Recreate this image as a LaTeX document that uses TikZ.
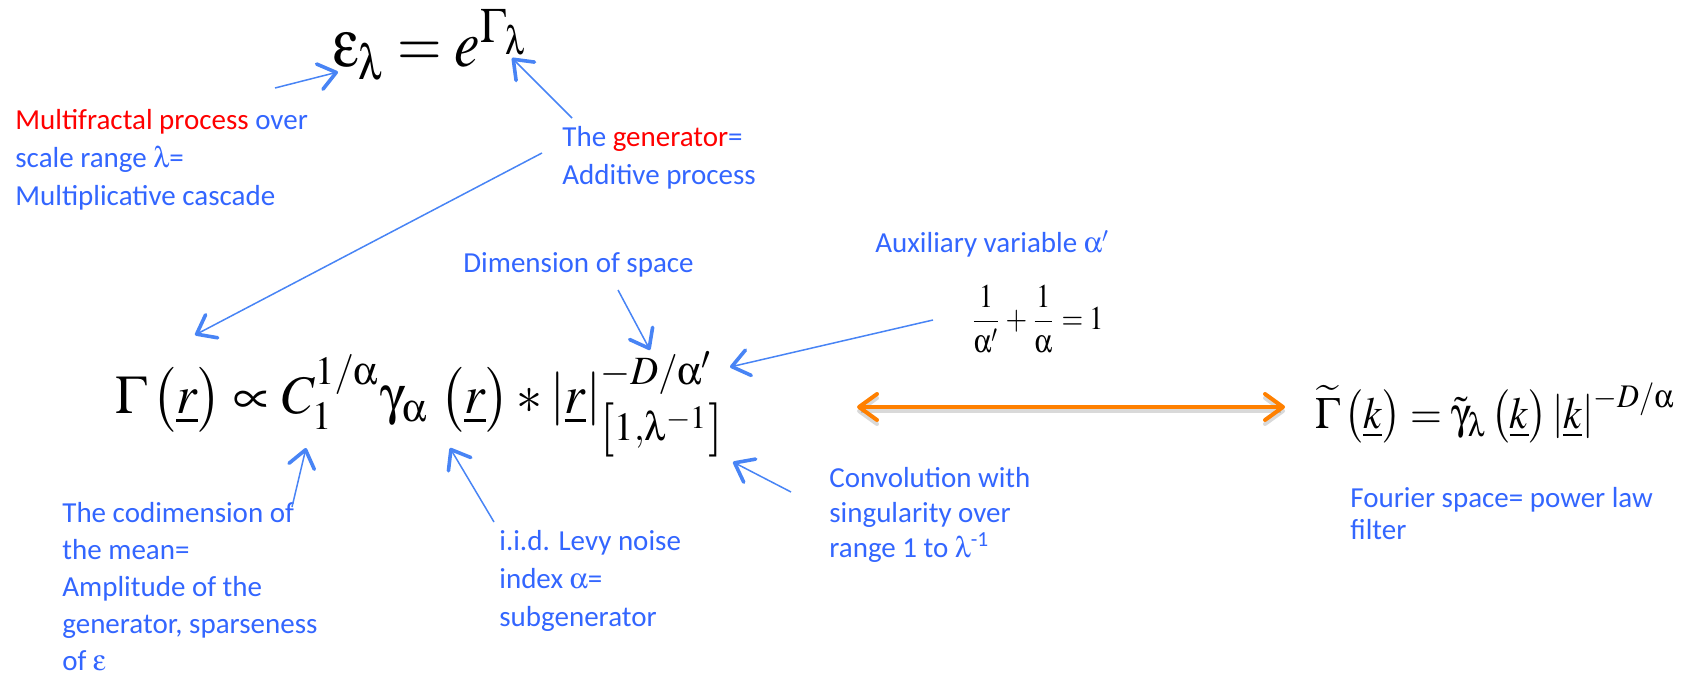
\documentclass[tikz,border=0pt]{standalone}
\usepackage{mathptmx}
\usepackage[Symbol]{upgreek}
\usepackage[no-math]{fontspec}
\setmainfont{Carlito}
\usepackage{graphicx}
\usetikzlibrary{arrows.meta}

\definecolor{noteblue}{RGB}{51,102,255}
\definecolor{arrowblue}{RGB}{72,132,245}
\definecolor{keyred}{RGB}{255,0,0}
\definecolor{fourorange}{RGB}{255,128,0}

\newcommand{\hl}[1]{\textcolor{keyred}{#1}}
\newcommand{\eqstrut}{\rule[-0.36em]{0pt}{1.24em}}

\tikzset{
  note/.style={anchor=base west, inner sep=0pt, align=left, text=noteblue,
    font=\fontsize{14.5}{19}\selectfont},
  eqn/.style={inner sep=0pt, text=black},
  pointer/.style={draw=arrowblue, line width=0.75pt,
    -{Straight Barb[length=8.5pt,width=13pt,line width=1.8pt,round]}},
  fourier/.style={draw=fourorange, line width=2pt,
    {Straight Barb[length=9pt,width=13pt,line width=2pt,round]}-{Straight Barb[length=9pt,width=13pt,line width=2pt,round]}}
}

\begin{document}
\begin{tikzpicture}[x=0.5pt,y=-0.5pt]
    \useasboundingbox (0,0) rectangle (1708,684);

    % the equations
    \node[eqn, anchor=base west] (topeq) at (333,67)
        {\resizebox{98.5pt}{28.5pt}{$\upepsilon_\uplambda = e^{\Gamma_\uplambda}$}};
    \node[eqn, anchor=base west] (maineq) at (115,413)
        {\resizebox{305pt}{30.5pt}{$\Gamma\left(\eqstrut\underline{r}\right)\propto C_1^{1/\upalpha}\upgamma_\upalpha\,\left(\eqstrut\underline{r}\right)*\left|\underline{r}\right|_{\left[1,\uplambda^{-1}\right]}^{-D/\upalpha'}$}};
    \node[eqn, anchor=base west] (fouriereq) at (1315,428)
        {\resizebox{180pt}{22.5pt}{$\widetilde{\Gamma}\left(\eqstrut\underline{k}\right)=\tilde{\upgamma}_\uplambda\left(\eqstrut\underline{k}\right)\left|\underline{k}\right|^{-D/\upalpha}$}};
    \node[eqn, anchor=west] (auxeq) at (970,319)
        {\resizebox*{66.5pt}{34pt}{$\displaystyle\frac{1}{\upalpha'}+\frac{1}{\upalpha}=1$}};

    % the notes (placed at the baseline of their last line)
    \node[note] (mfrac) at (15,206) {\hl{Multifractal process} over\\scale range $\uplambda$=\\Multiplicative cascade};
    \node[note] (gen) at (562,185) {The \hl{generator}=\\Additive process};
    \node[note] (dim) at (463,272) {Dimension of space};
    \node[note] (aux) at (875,253) {Auxiliary variable $\upalpha'$};
    \node[note, font=\fontsize{14.5}{18.5}\selectfont] (codim) at (62,670) {The codimension of\\the mean=\\Amplitude of the\\generator, sparseness\\of $\upepsilon$};
    \node[note] (iid) at (499,626) {i.i.d. Levy noise\\index $\upalpha$=\\subgenerator};
    \node[note, font=\fontsize{14.5}{17.5}\selectfont] (conv) at (829,557) {Convolution with\\singularity over\\range 1 to $\uplambda$\textsuperscript{-1}};
    \node[note, font=\fontsize{14.5}{16}\selectfont] (four) at (1350,539) {Fourier space= power law\\filter};

    % where the pointers start and end
    \coordinate (mfracA) at (275,88);   \coordinate (epsTip) at (338,72);
    \coordinate (genA) at (572,118);    \coordinate (expTip) at (512,58);
    \coordinate (genB) at (542,153);    \coordinate (gamTip) at (195,335);
    \coordinate (dimA) at (618,290);    \coordinate (dTip) at (650,350);
    \coordinate (auxA) at (933,320);    \coordinate (primeTip) at (730,367);
    \coordinate (codimA) at (292,507);  \coordinate (cTip) at (306,448);
    \coordinate (iidA) at (494,522);    \coordinate (noiseTip) at (450,448);
    \coordinate (convA) at (791,492);   \coordinate (rangeTip) at (733,462);
    \coordinate (realEnd) at (857,407); \coordinate (fourEnd) at (1285,407);

    \draw[pointer] (mfracA) -- (epsTip);
    \draw[pointer] (genA) -- (expTip);
    \draw[pointer] (genB) -- (gamTip);
    \draw[pointer] (dimA) -- (dTip);
    \draw[pointer] (auxA) -- (primeTip);
    \draw[pointer] (codimA) -- (cTip);
    \draw[pointer] (iidA) -- (noiseTip);
    \draw[pointer] (convA) -- (rangeTip);

    % real space <-> Fourier space
    \draw[fourier, draw=black, opacity=0.15, transform canvas={yshift=-2pt}] (realEnd) -- (fourEnd);
    \draw[fourier] (realEnd) -- (fourEnd);
\end{tikzpicture}
\end{document}
